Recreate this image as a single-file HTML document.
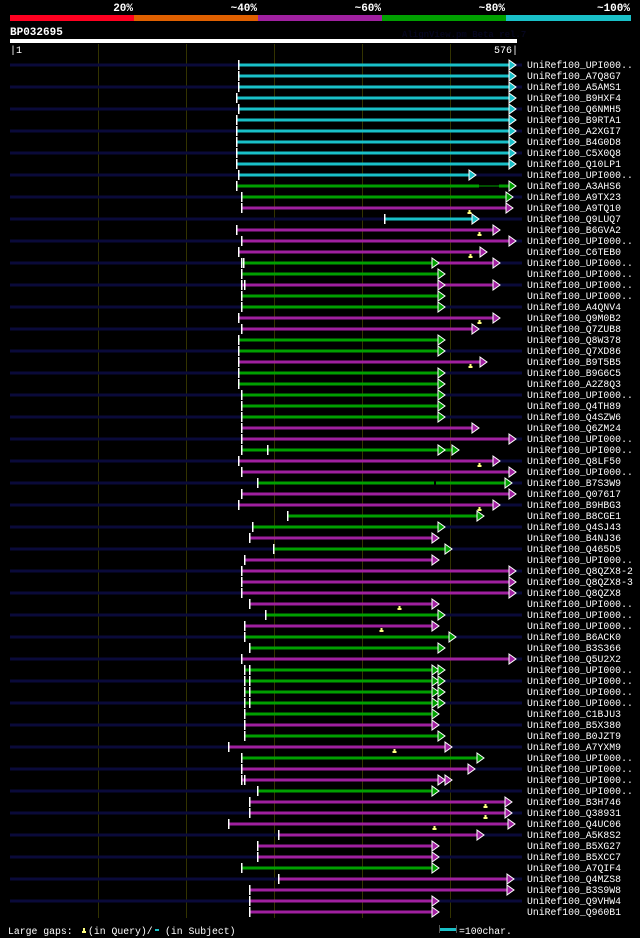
<!DOCTYPE html>
<html><head><meta charset="utf-8"><style>
html,body{margin:0;padding:0;background:#000;width:640px;height:938px;overflow:hidden}
svg{display:block}
text{font-family:"Liberation Mono","DejaVu Sans Mono",monospace}
</style></head><body>
<svg id="s" width="640" height="938" xmlns="http://www.w3.org/2000/svg">
<rect width="640" height="938" fill="#000"/>
<g font-size="11" font-weight="bold" fill="#fff" text-anchor="end">
<text x="133" y="11">20%</text><text x="257" y="11">~40%</text><text x="381" y="11">~60%</text><text x="505" y="11">~80%</text><text x="630" y="11">~100%</text>
</g>
<rect x="10" y="15" width="124" height="6" fill="#ff0020"/>
<rect x="134" y="15" width="124" height="6" fill="#e06000"/>
<rect x="258" y="15" width="124" height="6" fill="#a020a0"/>
<rect x="382" y="15" width="124" height="6" fill="#00a000"/>
<rect x="506" y="15" width="125" height="6" fill="#19c0c8"/>
<text x="10" y="35" font-size="11" font-weight="bold" fill="#fff">BP032695</text>
<text x="402" y="37" font-size="9" font-weight="bold" fill="#06061e">AlignView.pm Beta rel.7</text>
<rect x="10" y="39" width="507" height="4" fill="#fff"/>
<text x="10" y="53" font-size="10" fill="#fff">|1</text>
<text x="518" y="53" font-size="10" fill="#fff" text-anchor="end">576|</text>
<g id="grid" stroke="#333300" stroke-width="1"></g>
<g id="bars"></g>
<g font-size="9.8" fill="#fff" id="labels">
<text x="527" y="68">UniRef100_UPI000..</text><text x="527" y="79">UniRef100_A7Q8G7</text><text x="527" y="90">UniRef100_A5AMS1</text><text x="527" y="101">UniRef100_B9HXF4</text><text x="527" y="112">UniRef100_Q6NMH5</text><text x="527" y="123">UniRef100_B9RTA1</text><text x="527" y="134">UniRef100_A2XGI7</text><text x="527" y="145">UniRef100_B4G0D8</text><text x="527" y="156">UniRef100_C5X0Q8</text><text x="527" y="167">UniRef100_Q10LP1</text><text x="527" y="178">UniRef100_UPI000..</text><text x="527" y="189">UniRef100_A3AHS6</text><text x="527" y="200">UniRef100_A9TX23</text><text x="527" y="211">UniRef100_A9TQ10</text><text x="527" y="222">UniRef100_Q9LUQ7</text><text x="527" y="233">UniRef100_B6GVA2</text><text x="527" y="244">UniRef100_UPI000..</text><text x="527" y="255">UniRef100_C6TEB0</text><text x="527" y="266">UniRef100_UPI000..</text><text x="527" y="277">UniRef100_UPI000..</text><text x="527" y="288">UniRef100_UPI000..</text><text x="527" y="299">UniRef100_UPI000..</text><text x="527" y="310">UniRef100_A4QNV4</text><text x="527" y="321">UniRef100_Q9M0B2</text><text x="527" y="332">UniRef100_Q7ZUB8</text><text x="527" y="343">UniRef100_Q8W378</text><text x="527" y="354">UniRef100_Q7XD86</text><text x="527" y="365">UniRef100_B9T5B5</text><text x="527" y="376">UniRef100_B9G6C5</text><text x="527" y="387">UniRef100_A2Z8Q3</text><text x="527" y="398">UniRef100_UPI000..</text><text x="527" y="409">UniRef100_Q4TH89</text><text x="527" y="420">UniRef100_Q4SZW6</text><text x="527" y="431">UniRef100_Q6ZM24</text><text x="527" y="442">UniRef100_UPI000..</text><text x="527" y="453">UniRef100_UPI000..</text><text x="527" y="464">UniRef100_Q8LF50</text><text x="527" y="475">UniRef100_UPI000..</text><text x="527" y="486">UniRef100_B7S3W9</text><text x="527" y="497">UniRef100_Q07617</text><text x="527" y="508">UniRef100_B9HBG3</text><text x="527" y="519">UniRef100_B8CGE1</text><text x="527" y="530">UniRef100_Q4SJ43</text><text x="527" y="541">UniRef100_B4NJ36</text><text x="527" y="552">UniRef100_Q465D5</text><text x="527" y="563">UniRef100_UPI000..</text><text x="527" y="574">UniRef100_Q8QZX8-2</text><text x="527" y="585">UniRef100_Q8QZX8-3</text><text x="527" y="596">UniRef100_Q8QZX8</text><text x="527" y="607">UniRef100_UPI000..</text><text x="527" y="618">UniRef100_UPI000..</text><text x="527" y="629">UniRef100_UPI000..</text><text x="527" y="640">UniRef100_B6ACK0</text><text x="527" y="651">UniRef100_B3S366</text><text x="527" y="662">UniRef100_Q5U2X2</text><text x="527" y="673">UniRef100_UPI000..</text><text x="527" y="684">UniRef100_UPI000..</text><text x="527" y="695">UniRef100_UPI000..</text><text x="527" y="706">UniRef100_UPI000..</text><text x="527" y="717">UniRef100_C1BJU3</text><text x="527" y="728">UniRef100_B5X380</text><text x="527" y="739">UniRef100_B0JZT9</text><text x="527" y="750">UniRef100_A7YXM9</text><text x="527" y="761">UniRef100_UPI000..</text><text x="527" y="772">UniRef100_UPI000..</text><text x="527" y="783">UniRef100_UPI000..</text><text x="527" y="794">UniRef100_UPI000..</text><text x="527" y="805">UniRef100_B3H746</text><text x="527" y="816">UniRef100_Q38931</text><text x="527" y="827">UniRef100_Q4UC06</text><text x="527" y="838">UniRef100_A5K8S2</text><text x="527" y="849">UniRef100_B5XG27</text><text x="527" y="860">UniRef100_B5XCC7</text><text x="527" y="871">UniRef100_A7QIF4</text><text x="527" y="882">UniRef100_Q4MZS8</text><text x="527" y="893">UniRef100_B3S9W8</text><text x="527" y="904">UniRef100_Q9VHW4</text><text x="527" y="915">UniRef100_Q960B1</text>
</g>
<text x="8" y="934" font-size="9.8" fill="#fff">Large gaps:</text>
<path d="M82 933h4v-2h-1v-3h-2v3h-1z" fill="#ffff80"/>
<text x="88" y="934" font-size="9.8" fill="#fff">(in Query)/</text>
<rect x="155" y="929" width="4" height="2" fill="#19c0c8"/>
<text x="165" y="934" font-size="9.8" fill="#fff">(in Subject)</text>
<rect x="439" y="925" width="1" height="8" fill="#555"/>
<rect x="440" y="928" width="16" height="3" fill="#19c0c8"/>
<rect x="456" y="925" width="1" height="8" fill="#555"/>
<text x="459" y="934" font-size="9.8" fill="#fff">=100char.</text>
</svg>
<script>
var NS="http://www.w3.org/2000/svg";
function el(p,t,a){var e=document.createElementNS(NS,t);for(var k in a)e.setAttribute(k,a[k]);p.appendChild(e);return e;}
var g=document.getElementById('grid'),b=document.getElementById('bars');
[98,186,274,362,450].forEach(function(x){el(g,'line',{x1:x+.5,y1:44,x2:x+.5,y2:918});});
var C={c:'#19c0c8',g:'#00a000',m:'#a020a0'};
var R=[[238,509,'c'],[238,509,'c'],[238,509,'c'],[236,509,'c'],[238,509,'c'],[236,509,'c'],[236,509,'c'],[236,509,'c'],[236,509,'c'],[236,509,'c'],
[238,469,'c'],[236,509,'g'],[241,506,'g'],[241,506,'m',469],[384,472,'c'],[236,493,'m',479],[241,509,'m'],[238,480,'m',470],[241,493,'m'],[241,438,'g'],
[241,493,'m'],[241,438,'g'],[241,438,'g'],[238,493,'m',479],[241,472,'m'],[238,438,'g'],[238,438,'g'],[238,480,'m',470],[238,438,'g'],[238,438,'g'],
[241,438,'g'],[241,438,'g'],[241,438,'g'],[241,472,'m'],[241,509,'m'],[241,438,'g'],[238,493,'m',479],[241,509,'m'],[257,505,'g'],[241,509,'m'],
[238,493,'m',479],[287,477,'g'],[252,438,'g'],[249,432,'m'],[273,445,'g'],[244,432,'m'],[241,509,'m'],[241,509,'m'],[241,509,'m'],[249,432,'m',399],
[265,438,'g'],[244,432,'m',381],[244,449,'g'],[249,438,'g'],[241,509,'m'],[244,438,'g'],[244,438,'g'],[244,438,'g'],[244,438,'g'],[244,432,'g'],
[244,432,'m'],[244,438,'g'],[228,445,'m',394],[241,477,'g'],[241,468,'m'],[241,445,'m'],[257,432,'g'],[249,505,'m',485],[249,505,'m',485],[228,508,'m',434],
[278,477,'m'],[257,432,'m'],[257,432,'m'],[241,432,'g'],[278,507,'m'],[249,507,'m'],[249,432,'m'],[249,432,'m']];
function arrow(x,y,c){el(b,'path',{d:'M'+x+' '+(y-5)+'L'+(x+7)+' '+y+'L'+x+' '+(y+5)+'Z',fill:c,stroke:'#fff','stroke-width':1});}
function tick(x,y){el(b,'rect',{x:x,y:y-5,width:1.5,height:10,fill:'#fff'});}
R.forEach(function(r,i){
 var y=65+i*11,c=C[r[2]];
 if(i%2==0) el(b,'rect',{x:10,y:y-1.5,width:512,height:3,fill:'#0a0a3a'});
 var n=i+1;
 if(n==12){el(b,'rect',{x:236,y:y-1.5,width:243,height:3,fill:c});el(b,'rect',{x:479,y:y-.5,width:20,height:1,fill:c});el(b,'rect',{x:499,y:y-1.5,width:10,height:3,fill:c});}
 else if(n==19){el(b,'rect',{x:241,y:y-1.5,width:191,height:3,fill:C.g});el(b,'rect',{x:432,y:y-1.5,width:61,height:3,fill:C.m});}
 else el(b,'rect',{x:r[0],y:y-1.5,width:r[1]-r[0],height:3,fill:c});
 if(n==19){arrow(432,y,C.g);tick(243,y);}
 if(n==21){arrow(438,y,C.m);tick(244,y);}
 if(n==36){el(b,'rect',{x:438,y:y-1.5,width:14,height:3,fill:C.g});arrow(438,y,C.g);arrow(452,y,C.g);tick(267,y);}
 if(n>=56&&n<=59){arrow(432,y,C.g);tick(249,y);}
 if(n==66){arrow(438,y,C.m);tick(244,y);}
 if(n==39){el(b,'rect',{x:434,y:y-1.5,width:2,height:3,fill:'#000'});}
 tick(r[0],y);
 arrow(r[1],y,c);
 if(r[3]){el(b,'path',{d:'M'+(r[3]-1.5)+' '+(y+6)+'h4v-2h-1v-2h-2v2h-1z',fill:'#ffff80'});}
});
</script>
</body></html>
